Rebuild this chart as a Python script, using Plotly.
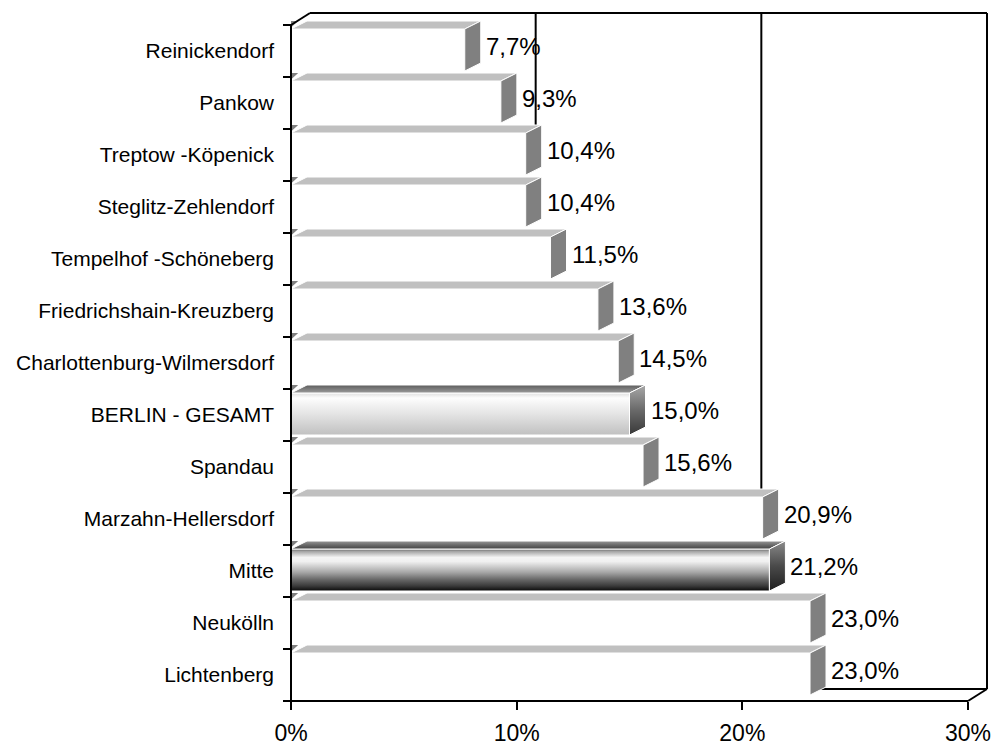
import plotly.graph_objects as go

# ---- data, listed from the bottom row to the top row ----
districts = [
    "Lichtenberg", "Neukölln", "Mitte", "Marzahn-Hellersdorf", "Spandau",
    "BERLIN - GESAMT", "Charlottenburg-Wilmersdorf", "Friedrichshain-Kreuzberg",
    "Tempelhof -Schöneberg", "Steglitz-Zehlendorf", "Treptow -Köpenick",
    "Pankow", "Reinickendorf",
]
shares = [23.0, 23.0, 21.2, 20.9, 15.6, 15.0, 14.5, 13.6, 11.5, 10.4, 10.4, 9.3, 7.7]
bar_styles = ["plain", "plain", "chrome", "plain", "plain", "silver", "plain",
              "plain", "plain", "plain", "plain", "plain", "plain"]
x_ticks = [0, 10, 20, 30]

# ---- page geometry (pixels) ----
W, H = 995, 747
X0_PX, X30_PX = 291, 968          # where 0 % and 30 % sit
PX_PER_X = (X30_PX - X0_PX) / 30.0
BAND_PX = 52.0                    # height of one category row
FLOOR_PX = 701                    # front edge of the floor
PLOT_L, PLOT_R, PLOT_T, PLOT_B = 284, 992, 8, 706

xmin = (PLOT_L - X0_PX) / PX_PER_X
xmax = (PLOT_R - X0_PX) / PX_PER_X
ymin = -0.5 - (PLOT_B - FLOOR_PX) / BAND_PX
ymax = -0.5 + (FLOOR_PX - PLOT_T) / BAND_PX

# 3-D offsets converted into axis units
BAR_DX, BAR_DY = 16 / PX_PER_X, 8 / BAND_PX
WALL_DX, WALL_DY = 19 / PX_PER_X, 12 / BAND_PX
FACE_TOP = 0.5 - 4 / BAND_PX      # front face top, relative to row centre
FACE_BOT = 0.5 - 46 / BAND_PX     # front face bottom, relative to row centre
LABEL_DY = 5 / BAND_PX

n = len(districts)
rows = list(range(n))
top_row = n - 1 + 0.5

FONT = "Liberation Sans, Arial, sans-serif"
INK = "#000000"


def grad(stops):
    """Vertical fill gradient; stops run bottom -> top."""
    return dict(type="vertical", colorscale=stops)


# colour sets for the front, top and side faces
STYLE = {
    "plain": dict(front="#ffffff", top="#c0c0c0", side="#808080"),
    "silver": dict(
        front=grad([[0, "#c0c0c0"], [0.5, "#e4e4e4"], [0.88, "#fdfdfd"], [1, "#e0e0e0"]]),
        top=grad([[0, "#9c9c9c"], [1, "#5c5c5c"]]),
        side=grad([[0, "#383838"], [0.5, "#6a6a6a"], [1, "#a8a8a8"]]),
    ),
    "chrome": dict(
        front=grad([[0, "#0a0a0a"], [0.12, "#3a3a3a"], [0.28, "#6a6a6a"],
                    [0.45, "#a8a8a8"], [0.7, "#f0f0f0"], [0.8, "#f4f4f4"],
                    [0.95, "#a0a0a0"], [1, "#5a5a5a"]]),
        top=grad([[0, "#444444"], [0.5, "#6a6a6a"], [1, "#989898"]]),
        side=grad([[0, "#1e1e1e"], [0.5, "#4a4a4a"], [1, "#8a8a8a"]]),
    ),
}

fig = go.Figure()

# front faces of the bars
fig.add_trace(go.Bar(
    orientation="h", x=shares, y=rows,
    width=FACE_TOP - FACE_BOT, offset=FACE_BOT,
    marker=dict(color="#ffffff", line=dict(color="#ffffff", width=1)),
    hoverinfo="skip", showlegend=False,
))


def face(xs, ys, fill):
    kw = dict(x=xs, y=ys, mode="lines", fill="toself",
              line=dict(color="#ffffff", width=1),
              hoverinfo="skip", showlegend=False)
    if isinstance(fill, dict):
        kw["fillgradient"] = fill
        kw["fillcolor"] = "rgba(0,0,0,0)"
    else:
        kw["fillcolor"] = fill
    fig.add_trace(go.Scatter(**kw))


for i, (v, st) in enumerate(zip(shares, bar_styles)):
    c = STYLE[st]
    yt = i + FACE_TOP
    yb = i + FACE_BOT
    # shaded front faces painted over the plain bar
    if isinstance(c["front"], dict):
        face([0, v, v, 0, 0], [yb, yb, yt, yt, yb], c["front"])
    # top face
    face([0, v, v + BAR_DX, BAR_DX, 0],
         [yt, yt, yt + BAR_DY, yt + BAR_DY, yt], c["top"])
    # right side face
    face([v, v + BAR_DX, v + BAR_DX, v, v],
         [yb, yb + BAR_DY, yt + BAR_DY, yt, yb], c["side"])
    # small dark corner where the top face meets the left wall
    fig.add_trace(go.Scatter(
        x=[0, 0.45 * BAR_DX, 0, 0],
        y=[yt + BAR_DY, yt + BAR_DY, yt + 0.2 * BAR_DY, yt + BAR_DY],
        mode="lines", fill="toself", fillcolor="#808080",
        line=dict(width=0), hoverinfo="skip", showlegend=False))

# value labels (German decimal comma)
for i, v in enumerate(shares):
    fig.add_annotation(
        x=v, y=i + LABEL_DY, text=f"{v:.1f}".replace(".", ",") + "%",
        xanchor="left", yanchor="middle", xshift=19, showarrow=False,
        font=dict(family=FONT, size=24, color=INK),
    )

# ---- frame: back wall, floor and left wall ----
wall = dict(color=INK, width=2)
shapes = []
x_back_r = 30 + WALL_DX
y_back_t = top_row + WALL_DY
y_back_b = -0.5 + WALL_DY
# back wall gridlines, hidden behind the first bar that reaches them
for t in x_ticks[1:-1]:
    gx = t + WALL_DX
    stop = y_back_b
    for i in range(n - 1, -1, -1):
        if shares[i] + BAR_DX >= gx:
            stop = i + FACE_TOP
            break
    shapes.append(dict(type="line", xref="x", yref="y", x0=gx, x1=gx,
                       y0=y_back_t, y1=stop, line=wall, layer="below"))
# back floor edge (behind the bars)
shapes.append(dict(type="line", xref="x", yref="y", x0=WALL_DX, x1=x_back_r,
                   y0=y_back_b, y1=y_back_b, line=wall, layer="below"))
# outer outline
outline = [
    (0, top_row, WALL_DX, y_back_t),
    (WALL_DX, y_back_t, x_back_r, y_back_t),
    (x_back_r, y_back_t, x_back_r, y_back_b),
    (x_back_r, y_back_b, 30, -0.5),
    (30, -0.5, 0, -0.5),
    (0, -0.5, 0, top_row),
]
for x0, y0, x1, y1 in outline:
    shapes.append(dict(type="line", xref="x", yref="y", x0=x0, y0=y0, x1=x1, y1=y1,
                       line=wall, layer="above"))

fig.update_layout(
    width=W, height=H,
    margin=dict(l=PLOT_L, r=W - PLOT_R, t=PLOT_T, b=H - PLOT_B, autoexpand=False),
    paper_bgcolor="#ffffff", plot_bgcolor="#ffffff",
    showlegend=False, barmode="overlay",
    shapes=shapes,
    xaxis=dict(
        range=[xmin, xmax], tickmode="array", tickvals=x_ticks,
        ticktext=[f"{t}%" for t in x_ticks],
        ticks="outside", ticklen=8, tickwidth=1.5, tickcolor=INK,
        showgrid=False, zeroline=False, showline=False,
        anchor="free", position=(-0.5 - ymin) / (ymax - ymin),
        ticklabelstandoff=3,
        tickfont=dict(family=FONT, size=23, color=INK),
    ),
    yaxis=dict(
        range=[ymin, ymax], tickmode="array", tickvals=rows, ticktext=districts,
        ticks="", showgrid=False, zeroline=False, showline=False,
        minor=dict(tickmode="array", tickvals=[r - 0.5 for r in range(n + 1)],
                   ticks="outside", ticklen=8, tickwidth=2, tickcolor=INK, showgrid=False),
        anchor="free", position=(0 - xmin) / (xmax - xmin),
        ticklabelstandoff=17,
        tickfont=dict(family=FONT, size=21, color=INK),
    ),
)

fig.write_html("out.html")
